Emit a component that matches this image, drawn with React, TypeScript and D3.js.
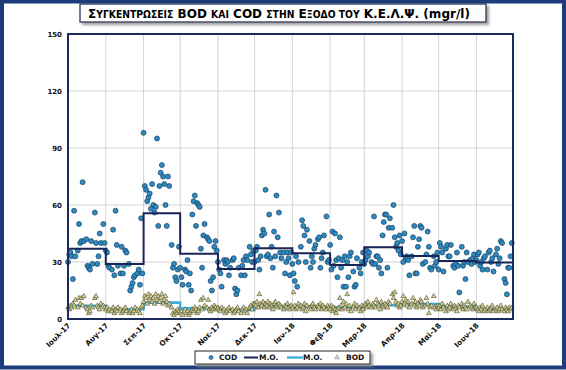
import React from "react";
import * as d3 from "d3";

// month tick labels (start of each month, Jul 2017 - Jun 2018)
const monthLabels = [
  "Ιουλ-17", "Αυγ-17", "Σεπ-17", "Οκτ-17", "Νοε-17", "Δεκ-17",
  "Ιαν-18", "Φεβ-18", "Μαρ-18", "Απρ-18", "Μαϊ-18", "Ιουν-18",
];

// monthly averages (M.O.)
const codMean = [37, 29, 55.6, 34.4, 26.3, 37.2, 34.6, 28.4, 37.7, 33.2, 30.5, 29.8];
const bodMean = [7, 5.1, 8.6, 5.6, 4.7, 6.8, 6.5, 6.1, 7.2, 7.9, 6.5, 5.1];

const yTicks = [0, 30, 60, 90, 120, 150];

// samples per month: [day, COD, BOD]
const jul17 = [[1,30,6],[2,34,5],[3,35,7],[4,33,6],[5,21,8],[6,57,7],[7,33,10],[9,36,6],[10,50,11],[11,40,8],[12,41,11],[13,72,7],[14,41,12],[16,42,6],[17,28,5],[18,27,3],[19,26,4],[20,41,7],[21,29,6],[23,56,11],[24,40,12],[25,29,7],[26,33,6],[27,45,5],[28,40,8],[30,50,7],[31,40,6]];
const aug17 = [[1,36,5],[2,35,6],[3,28,4],[4,27,5],[6,26,4],[7,47,6],[8,23,3],[9,57,5],[10,39,4],[11,28,6],[13,24,5],[14,38,3],[15,24,4],[16,28,5],[17,36,6],[18,35,4],[20,29,3],[21,15,4],[22,17,5],[23,19,3],[24,22,4],[25,23,6],[27,24,5],[28,26,4],[29,18,3],[30,53,6],[31,24,7]];
const sep17 = [[1,98,9],[2,70,12],[3,68,11],[4,62,8],[5,64,13],[6,66,10],[7,58,12],[8,71,9],[9,60,11],[10,56,8],[11,59,13],[12,95,10],[13,49,12],[14,70,9],[15,77,11],[16,81,13],[17,75,8],[18,71,10],[19,60,12],[20,49,9],[21,75,7],[22,70,8],[24,39,6],[25,27,3],[26,29,2],[27,22,4],[28,20,3],[29,26,5],[30,38,4]];
const oct17 = [[1,27,3],[2,22,4],[3,18,2],[5,26,5],[6,25,3],[7,31,4],[8,18,2],[9,24,3],[10,15,4],[11,55,5],[12,62,4],[13,65,6],[14,49,5],[15,61,3],[16,60,4],[17,59,6],[18,37,10],[19,27,5],[20,44,11],[21,50,7],[23,43,6],[24,42,10],[25,41,5],[26,20,4],[27,15,6],[28,22,5],[29,38,7],[30,41,6],[31,36,5]];
const nov17 = [[1,30,6],[2,26,5],[3,24,4],[4,17,6],[6,31,5],[7,29,3],[8,31,4],[9,30,5],[10,23,6],[11,27,4],[13,31,5],[14,32,3],[15,16,4],[16,13,5],[17,15,6],[18,27,4],[20,23,3],[21,28,5],[22,31,6],[23,23,4],[24,33,5],[25,31,3],[27,38,6],[28,34,7],[29,30,5],[30,36,8]];
const dec17 = [[1,30,8],[2,36,7],[3,38,9],[4,31,6],[5,26,13],[6,33,8],[7,44,7],[8,47,9],[9,45,6],[10,68,8],[11,33,7],[12,34,9],[13,55,6],[14,32,8],[15,38,7],[16,27,5],[17,46,8],[18,33,9],[19,65,7],[20,43,6],[21,56,8],[22,35,7],[23,32,6],[25,35,5],[26,24,7],[27,30,6],[28,35,8],[29,32,6],[30,23,5],[31,35,7]];
const jan18 = [[1,29,6],[2,24,14],[3,20,7],[4,33,5],[5,17,6],[6,30,8],[8,38,7],[9,52,5],[10,49,6],[11,44,8],[12,30,4],[13,47,7],[15,41,6],[16,27,5],[17,33,7],[18,30,8],[19,37,6],[20,39,5],[22,42,7],[23,43,6],[24,27,8],[25,32,5],[26,35,7],[27,44,6],[29,54,5],[30,30,7],[31,31,6]];
const feb18 = [[1,39,5],[2,26,7],[3,46,4],[4,28,6],[5,45,5],[6,31,3],[7,22,5],[8,32,6],[9,43,11],[10,27,7],[11,31,5],[12,17,9],[13,33,6],[14,17,8],[15,30,13],[16,22,5],[17,33,7],[18,35,4],[20,25,6],[21,17,8],[22,18,5],[23,32,7],[25,27,6],[26,24,4],[27,30,7],[28,35,5]];
const mar18 = [[1,29,7],[2,31,8],[3,36,6],[4,33,9],[5,35,7],[7,30,6],[8,29,8],[9,54,7],[10,29,6],[11,33,10],[12,33,8],[13,27,7],[14,31,5],[15,24,9],[16,44,7],[17,51,6],[18,55,8],[19,55,7],[20,27,6],[21,48,9],[22,53,8],[24,48,13],[25,60,11],[26,43,14],[27,38,9],[28,40,7],[29,36,8],[30,44,6],[31,34,7]];
const apr18 = [[1,41,9],[2,30,12],[3,45,8],[4,32,10],[5,33,7],[6,31,9],[7,23,6],[9,33,8],[10,43,11],[11,49,7],[12,24,9],[13,24,6],[14,38,8],[15,42,7],[16,49,10],[17,48,9],[18,29,6],[20,30,7],[21,34,11],[22,46,8],[23,38,3],[24,27,6],[25,26,7],[27,33,12],[28,28,6],[29,30,5],[30,35,7]];
const may18 = [[1,26,6],[2,40,7],[3,38,5],[4,35,8],[5,25,6],[7,37,4],[8,39,7],[9,33,5],[10,33,6],[11,39,8],[13,28,5],[14,27,7],[15,29,6],[16,35,4],[17,28,7],[18,14,6],[20,38,8],[21,28,5],[22,30,7],[23,21,6],[24,35,5],[25,30,9],[27,31,7],[28,29,6],[29,32,5],[30,34,8],[31,30,6]];
const jun18 = [[1,31,6],[2,34,5],[3,35,4],[4,28,6],[5,30,5],[6,26,7],[7,32,4],[8,33,5],[10,26,6],[11,35,4],[12,36,5],[13,30,6],[14,32,7],[15,25,4],[17,34,5],[18,37,6],[19,29,4],[20,32,5],[21,41,7],[22,40,5],[24,21,4],[25,19,6],[26,13,5],[27,27,4],[28,27,6],[29,33,5],[30,40,6]];

const months = [jul17, aug17, sep17, oct17, nov17, dec17, jan18, feb18, mar18, apr18, may18, jun18];

const W = 566;
const H = 370;
const FONT = "'DejaVu Sans', Verdana, sans-serif";

const monthStart = (i: number) => new Date(2017, 6 + i, 1);

export default function App() {
  const x = d3.scaleTime().domain([monthStart(0), monthStart(12)]).range([68, 513]);
  const y = d3.scaleLinear().domain([0, 150]).range([319, 34]);

  const samples = months.flatMap((m, i) =>
    m.map(([day, cod, bod]) => ({ date: new Date(2017, 6 + i, day), cod, bod }))
  );

  const stepLine = d3
    .line<[Date, number]>()
    .x((d) => x(d[0]))
    .y((d) => y(d[1]))
    .curve(d3.curveStepAfter);

  const stepPts = (vals: number[]): [Date, number][] => [
    ...vals.map((v, i) => [monthStart(i), v] as [Date, number]),
    [monthStart(12), vals[vals.length - 1]],
  ];

  const tri = d3.symbol().type(d3.symbolTriangle).size(10)() as string;

  const [x0, x1] = x.range();
  const [y0, y1] = y.range();

  // title: big caps + small caps
  const big = 12.5;
  const small = 9.6;
  const titleParts: [string, number][] = [
    ["Σ", big], ["ΥΓΚΕΝΤΡΩΣΕΙΣ", small], [" BOD ", big], ["ΚΑΙ", small],
    [" COD ", big], ["ΣΤΗΝ", small], [" Ε", big], ["ΞΟΔΟ ΤΟΥ", small],
    [" Κ.Ε.Λ.Ψ. (mgr/l)", big],
  ];

  return (
    <svg
      width={W}
      height={H}
      style={{ position: "absolute", left: 0, top: 0, background: "#fff" }}
      fontFamily={FONT}
    >
      <defs>
        <filter id="sh" x="-5%" y="-20%" width="115%" height="160%">
          <feDropShadow dx="2.5" dy="2.5" stdDeviation="1" floodColor="#888" floodOpacity="0.8" />
        </filter>
      </defs>

      {/* outer frame */}
      <rect x={2} y={1.5} width={W - 4} height={H - 4} fill="#fff" stroke="#1d3c7c" strokeWidth={4} />

      {/* title */}
      <rect x={80} y={4} width={406} height={18} fill="#fff" stroke="#1c2550" strokeWidth={1.2} filter="url(#sh)" />
      <text x={279} y={18} textAnchor="middle" fontWeight="bold" fill="#000" textLength={382} lengthAdjust="spacingAndGlyphs">
        {titleParts.map(([t, s], i) => (
          <tspan key={i} fontSize={s}>{t}</tspan>
        ))}
      </text>

      {/* grid */}
      <g stroke="#c8c8c8" strokeWidth={0.8}>
        {d3.range(1, 12).map((i) => (
          <line key={"v" + i} x1={x(monthStart(i))} x2={x(monthStart(i))} y1={y1} y2={y0} />
        ))}
        {yTicks.slice(1, -1).map((t) => (
          <line key={"h" + t} x1={x0} x2={x1} y1={y(t)} y2={y(t)} />
        ))}
      </g>

      {/* y labels */}
      <g fontSize={7} fontWeight="bold" textAnchor="end" fill="#111">
        {yTicks.map((t) => (
          <text key={t} x={62} y={y(t) + 2.5}>{t}</text>
        ))}
      </g>

      {/* x labels */}
      <g fontSize={7.4} fontWeight="bold" textAnchor="end" fill="#111">
        {monthLabels.map((l, i) => {
          const px = x(monthStart(i)) + 3;
          const py = 326;
          return (
            <text key={l} transform={`translate(${px},${py}) rotate(-45)`}>{l}</text>
          );
        })}
      </g>

      {/* COD points */}
      <g fill="#2d8ac2" stroke="#1a405e" strokeWidth={0.7}>
        {samples.map((d, i) => (
          <circle key={i} cx={x(d.date)} cy={y(d.cod)} r={2.5} />
        ))}
      </g>

      {/* monthly means */}
      <path d={stepLine(stepPts(codMean)) ?? ""} fill="none" stroke="#1a2557" strokeWidth={2} />
      <path d={stepLine(stepPts(bodMean)) ?? ""} fill="none" stroke="#3cb0dc" strokeWidth={2.6} />

      {/* BOD points */}
      <g fill="#d8d690" stroke="#4a4a30" strokeWidth={0.6}>
        {samples.map((d, i) => (
          <path key={i} d={tri} transform={`translate(${x(d.date)},${y(d.bod)})`} />
        ))}
      </g>

      {/* plot border */}
      <rect x={x0} y={y1} width={x1 - x0} height={y0 - y1} fill="none" stroke="#1a2a5a" strokeWidth={2} />

      {/* legend */}
      <rect x={195} y={351} width={175} height={13} fill="#fff" stroke="#222" strokeWidth={1} filter="url(#sh)" />
      <g fontSize={7.5} fontWeight="bold" fill="#111">
        <circle cx={211} cy={357.5} r={2} fill="#2d8ac2" stroke="#1a405e" strokeWidth={0.6} />
        <text x={219} y={360.3}>COD</text>
        <line x1={244} x2={258} y1={357.5} y2={357.5} stroke="#1a2557" strokeWidth={2} />
        <text x={259} y={360.3}>M.O.</text>
        <line x1={287} x2={303} y1={357.5} y2={357.5} stroke="#3cb0dc" strokeWidth={2.4} />
        <text x={303} y={360.3}>M.O.</text>
        <path d={tri} transform="translate(337,357.5)" fill="#d6d6d6" stroke="#777" strokeWidth={0.5} />
        <text x={346} y={360.3}>BOD</text>
      </g>
    </svg>
  );
}
